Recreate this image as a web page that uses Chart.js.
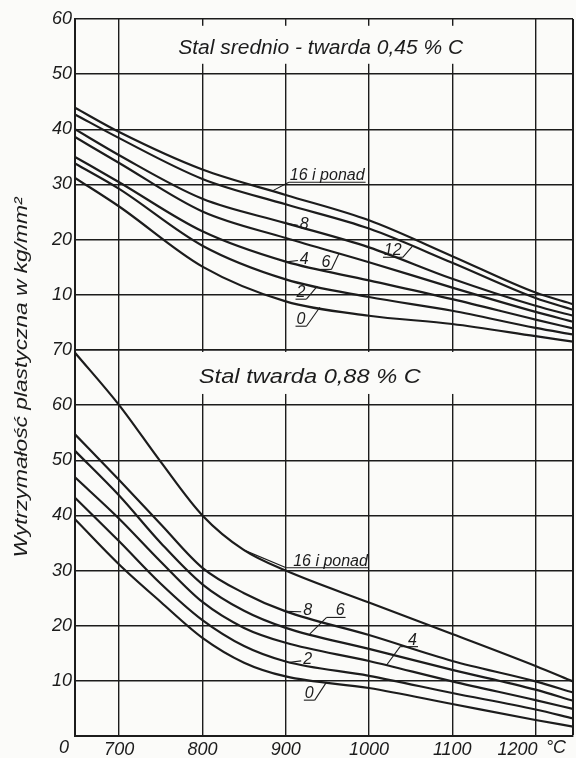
<!DOCTYPE html>
<html>
<head>
<meta charset="utf-8">
<script src="https://cdn.jsdelivr.net/npm/chart.js"></script>
<style>
  html, body { margin: 0; padding: 0; background: #fbfbf9; }
  #wrap { width: 576px; height: 758px; }
</style>
</head>
<body>
<div id="wrap"><canvas id="chart"></canvas></div>
<script>
// temperature in degC, yield strength in kg/mm2, one curve per deformation rate
const topTemps = [647, 700, 800, 900, 1000, 1100, 1200, 1245];
const top16 = [43.9, 39.5, 32.7, 28.1, 23.5, 17.0, 10.4, 8.3];
const top12 = [42.7, 38.4, 31.0, 26.4, 22.0, 15.8, 9.4, 7.3];
const top8  = [40.0, 35.3, 27.4, 23.0, 18.6, 12.9, 8.0, 6.2];
const top6  = [38.6, 33.9, 25.1, 20.3, 15.9, 11.3, 6.9, 5.1];
const top4  = [35.0, 30.4, 21.5, 16.0, 12.6, 9.2, 5.5, 3.9];
const top2  = [33.8, 29.2, 18.9, 12.8, 9.6, 7.1, 4.0, 2.8];
const top0  = [31.2, 26.0, 15.1, 8.8, 6.2, 4.7, 2.5, 1.5];

const bottomTemps = [647, 700, 750, 800, 850, 900, 1000, 1100, 1200, 1245];
const bot16 = [69.5, 60.0, 49.7, 40.0, 33.7, 30.0, 24.2, 18.5, 12.7, 9.9];
const bot8  = [54.7, 46.4, 38.4, 30.5, 25.9, 22.6, 18.3, 13.6, 9.9, 7.9];
const bot6  = [51.7, 43.6, 35.0, 27.5, 22.7, 19.6, 15.8, 12.0, 8.4, 6.4];
const bot4  = [46.9, 39.4, 31.6, 24.3, 19.6, 16.9, 13.6, 9.9, 6.5, 4.9];
const bot2  = [43.2, 35.3, 27.6, 21.0, 16.3, 13.5, 10.9, 7.8, 4.8, 3.2];
const bot0  = [39.3, 31.1, 24.3, 17.8, 13.3, 10.8, 8.7, 5.8, 2.9, 1.7];

const xTickValues = [700, 800, 900, 1000, 1100, 1200, 1245];
const xTickLabels = ['700', '800', '900', '1000', '1100', '1200\u2002\u2002\u2002\u2002', ''];
const topTickValues = [0, 10, 20, 30, 40, 50, 60];
const topTickLabels = ['', '10', '20', '30', '40', '50', '60'];
const bottomTickValues = [0, 10, 20, 30, 40, 50, 60, 70];
const bottomTickLabels = ['', '10', '20', '30', '40', '50', '60', '70'];

const topTitle = 'Stal srednio - twarda 0,45 % C';
const bottomTitle = 'Stal twarda 0,88 % C';
const yTitle = 'Wytrzymałość plastyczna w kg/mm²';

// curve labels: text spot and the temperature where the leader meets the curve
const curveLabels = [
  { panel: 'top', series: top16, text: '16 i ponad', tx: 905, ty: 30.4, cx: 884, kind: 'left', gap: 1 },
  { panel: 'top', series: top8, text: '8', tx: 917, ty: 22.8, cx: 902, kind: 'dash' },
  { panel: 'top', series: top4, text: '4', tx: 917, ty: 16.4, cx: 901, kind: 'dash' },
  { panel: 'top', series: top6, text: '6', tx: 943, ty: 14.6, cx: 964, kind: 'slash' },
  { panel: 'top', series: top12, text: '12', tx: 1018, ty: 16.8, cx: 1052, kind: 'slash' },
  { panel: 'top', series: top2, text: '2', tx: 913, ty: 9.2, cx: 938, kind: 'slash' },
  { panel: 'top', series: top0, text: '0', tx: 913, ty: 4.3, cx: 941, kind: 'slash' },
  { panel: 'bottom', series: bot16, text: '16 i ponad', tx: 909, ty: 30.5, cx: 850, kind: 'left', gap: 7 },
  { panel: 'bottom', series: bot8, text: '8', tx: 921, ty: 22.7, cx: 900, kind: 'dash' },
  { panel: 'bottom', series: bot6, text: '6', tx: 960, ty: 21.5, cx: 929, kind: 'left', gap: 9 },
  { panel: 'bottom', series: bot4, text: '4', tx: 1047, ty: 16.2, cx: 1021, kind: 'left', gap: 8 },
  { panel: 'bottom', series: bot2, text: '2', tx: 921, ty: 13.8, cx: 905, kind: 'dash' },
  { panel: 'bottom', series: bot0, text: '0', tx: 923, ty: 6.5, cx: 949, kind: 'slash' }
];

const FONT = '"Liberation Sans", Arial, sans-serif';
const INK = '#1c1c1c';
const PAPER = '#fbfbf9';

function curve(temps, vals, axis) {
  return {
    data: temps.map((t, i) => ({ x: t, y: vals[i] })),
    yAxisID: axis,
    borderColor: INK,
    borderWidth: 2.2,
    pointRadius: 0,
    fill: false,
    cubicInterpolationMode: 'monotone'
  };
}

function valueAt(temps, vals, t) {
  for (let i = 1; i < temps.length; i++) {
    if (t <= temps[i]) {
      const f = (t - temps[i - 1]) / (temps[i] - temps[i - 1]);
      return vals[i - 1] + f * (vals[i] - vals[i - 1]);
    }
  }
  return vals[vals.length - 1];
}

function line(ctx, a, b) {
  ctx.beginPath();
  ctx.moveTo(a[0], a[1]);
  ctx.lineTo(b[0], b[1]);
  ctx.stroke();
}

function squeezedText(ctx, text, cx, cy, width) {
  const w = ctx.measureText(text).width;
  ctx.save();
  ctx.translate(cx, cy);
  ctx.scale(width / w, 1);
  ctx.textAlign = 'center';
  ctx.textBaseline = 'middle';
  ctx.fillText(text, 0, 0);
  ctx.restore();
}

const paper = {
  id: 'paper',
  beforeDraw(chart) {
    const c = chart.ctx;
    c.save();
    c.fillStyle = PAPER;
    c.fillRect(0, 0, chart.width, chart.height);
    c.restore();
  }
};

const notes = {
  id: 'notes',
  afterDraw(chart) {
    const c = chart.ctx;
    const x = chart.scales.x, yT = chart.scales.yTop, yB = chart.scales.yBottom;
    const area = chart.chartArea;
    c.save();
    c.fillStyle = INK;
    c.strokeStyle = INK;

    // panel titles sit on blank patches of the grid
    c.font = 'italic 20px ' + FONT;
    let cx = x.getPixelForValue(942), cy = yT.getPixelForValue(54.6);
    c.fillStyle = PAPER;
    c.fillRect(cx - 162, cy - 23, 324, 38);
    c.fillStyle = INK;
    squeezedText(c, topTitle, cx, cy, 285);

    cx = x.getPixelForValue(929); cy = yB.getPixelForValue(65.1);
    c.fillStyle = PAPER;
    c.fillRect(cx - 147, cy - 25, 294, 42);
    c.fillStyle = INK;
    squeezedText(c, bottomTitle, cx, cy, 222);

    // y axis title
    c.font = 'italic 19px ' + FONT;
    c.save();
    c.translate(22, (area.top + area.bottom) / 2);
    c.rotate(-Math.PI / 2);
    squeezedText(c, yTitle, 0, 0, 360);
    c.restore();

    // corner zero and unit
    c.font = 'italic 18px ' + FONT;
    c.textAlign = 'center';
    c.textBaseline = 'middle';
    c.fillText('0', area.left - 11, area.bottom + 12);
    c.fillText('°C', area.right - 17, area.bottom + 12);

    // curve labels with leaders
    c.font = 'italic 16px ' + FONT;
    c.textAlign = 'left';
    c.lineWidth = 1.1;
    curveLabels.forEach(lab => {
      const sc = lab.panel === 'top' ? yT : yB;
      const temps = lab.panel === 'top' ? topTemps : bottomTemps;
      const p = [x.getPixelForValue(lab.cx), sc.getPixelForValue(valueAt(temps, lab.series, lab.cx))];
      const tx = x.getPixelForValue(lab.tx), ty = sc.getPixelForValue(lab.ty);
      const w = c.measureText(lab.text).width;
      if (lab.kind === 'dash') {
        c.textBaseline = 'middle';
        c.fillText(lab.text, tx, ty);
        line(c, p, [tx - 2, ty + 1]);
      } else {
        c.textBaseline = 'alphabetic';
        c.fillText(lab.text, tx, ty - 2);
        const u0 = tx - (lab.kind === 'left' ? lab.gap : 1);
        const u1 = tx + w + 1;
        line(c, [u0, ty], [u1, ty]);
        line(c, lab.kind === 'left' ? [u0, ty] : [u1, ty], p);
      }
    });
    c.restore();
  }
};

const tickFont = { family: FONT, size: 18, style: 'italic' };

function yAxis(ticks, labels, max, weight) {
  return {
    type: 'linear',
    position: 'left',
    stack: 'panels',
    stackWeight: max,
    weight: weight,
    min: 0,
    max: max,
    afterBuildTicks: s => { s.ticks = ticks.map(v => ({ value: v })); },
    afterFit: s => { s.width = 75; },
    ticks: { callback: (v, i) => labels[i], font: tickFont, color: INK, padding: 3 },
    grid: { color: INK, lineWidth: 1.4, drawTicks: false },
    border: { color: INK, width: 2 }
  };
}

new Chart(document.getElementById('chart'), {
  type: 'line',
  data: {
    datasets: [top16, top12, top8, top6, top4, top2, top0].map(v => curve(topTemps, v, 'yTop'))
      .concat([bot16, bot8, bot6, bot4, bot2, bot0].map(v => curve(bottomTemps, v, 'yBottom')))
  },
  options: {
    responsive: true,
    maintainAspectRatio: false,
    animation: false,
    events: [],
    layout: { padding: { top: 19, right: 3, left: 0, bottom: 0 } },
    plugins: { legend: { display: false }, tooltip: { enabled: false } },
    scales: {
      x: {
        type: 'linear',
        min: 647,
        max: 1245,
        afterBuildTicks: s => { s.ticks = xTickValues.map(v => ({ value: v })); },
        afterFit: s => { s.height = 22; },
        ticks: { callback: (v, i) => xTickLabels[i], font: tickFont, color: INK, padding: 3, maxRotation: 0, autoSkip: false },
        grid: { color: INK, lineWidth: c => (c.tick && c.tick.value === 1245 ? 2 : 1.4), drawTicks: false },
        border: { color: INK, width: 2 }
      },
      yBottom: yAxis(bottomTickValues, bottomTickLabels, 70, 0),
      yTop: yAxis(topTickValues, topTickLabels, 60, 1)
    }
  },
  plugins: [paper, notes]
});
</script>
</body>
</html>
